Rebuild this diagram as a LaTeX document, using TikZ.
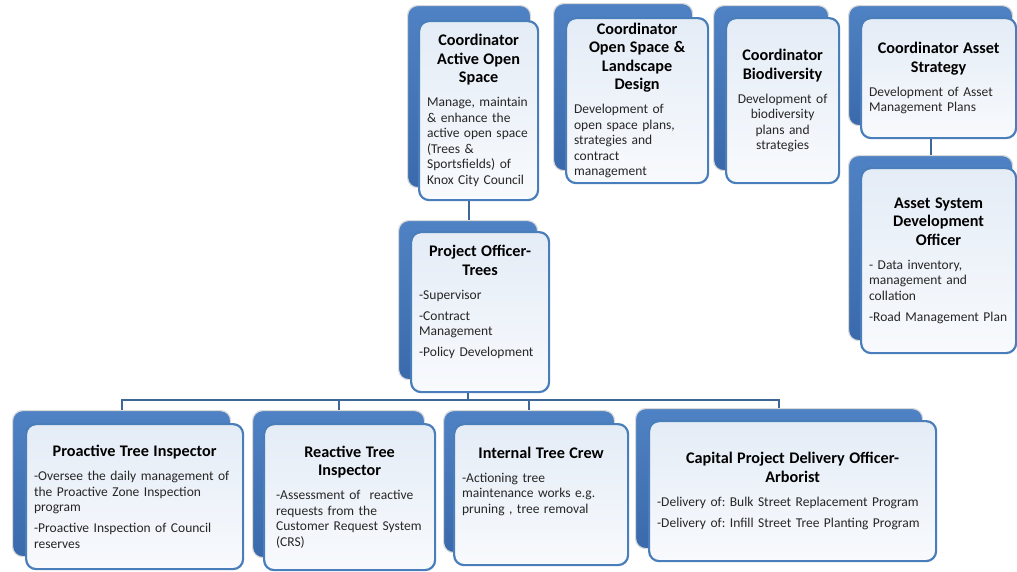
\documentclass[tikz,border=0pt]{standalone}
\usepackage{fontspec}
\setmainfont{Carlito}
\usetikzlibrary{calc}
\definecolor{cardblue}{HTML}{4A7EBB}
\definecolor{backtop}{HTML}{4F82C4}
\definecolor{backbot}{HTML}{3A6AAB}
\definecolor{facetop}{HTML}{E4ECF6}
\definecolor{facebot}{HTML}{F8FAFD}
\definecolor{connblue}{HTML}{3E6696}
\setlength\parindent{0pt}
\frenchspacing
\newcommand\ttlfont{\fontsize{16.2}{18.5}\selectfont\bfseries\color{black}}
\newcommand\bodyfont{\fontsize{13.5}{15.5}\selectfont\parindent=0pt\frenchspacing}
\newcommand\ttl[1]{{\centering\ttlfont #1\par}\vspace{8.5pt}}
\newcommand\gap{\par\vspace{5.5pt}}
\newcommand\li[1]{\mbox{#1}}
\newcommand\lift[1]{\par\vspace{#1}\hbox{}}
\begin{document}
\begin{tikzpicture}[x=1pt,y=-1pt,
  back/.style={draw=black!15, line width=1.2pt, rounded corners=10pt,
    top color=backtop, bottom color=backbot, anchor=north west, inner sep=0pt},
  face/.style={draw=cardblue, line width=2.2pt, rounded corners=10pt,
    top color=facetop, bottom color=facebot, anchor=north west,
    inner xsep=8pt, inner ysep=0pt, font=\bodyfont, text=black!85, align=left},
  conn/.style={draw=connblue, line width=2pt}]
\useasboundingbox (0,0) rectangle (1017,571);

% back cards
\node[back, minimum width=123pt, minimum height=182pt] (p1) at (407,5) {};
\node[back, minimum width=139pt, minimum height=167pt] (p2) at (553,3) {};
\node[back, minimum width=115pt, minimum height=165pt] (p3) at (713,5) {};
\node[back, minimum width=164pt, minimum height=120pt] (p4) at (848,5) {};
\node[back, minimum width=164pt, minimum height=185pt] (p5) at (848,155) {};
\node[back, minimum width=139pt, minimum height=159pt] (p6) at (398,220) {};
\node[back, minimum width=218pt, minimum height=146pt] (p7) at (12,410) {};
\node[back, minimum width=172pt, minimum height=147pt] (p8) at (252,410) {};
\node[back, minimum width=171pt, minimum height=142pt] (p9) at (443,410) {};
\node[back, minimum width=287pt, minimum height=140pt] (p10) at (635,408) {};

% front cards
\node[face, text width=103pt, minimum width=119pt, minimum height=179pt] (b1) at (418,20)
 {\ttl{Coordinator\\Active Open\\Space}
  \li{Manage, maintain}\\\li{\& enhance the}\\\li{active open space}\\\li{(Trees \&}\\\li{Sportsfields) of}\\\li{Knox City Council}};
\node[face, text width=126pt, minimum width=142pt, minimum height=165pt] (b2) at (565,17)
 {\ttl{Coordinator\\Open Space \&\\Landscape\\Design}
  \li{Development of}\\\li{open space plans,}\\\li{strategies and}\\\li{contract}\\\li{management}};
\node[face, align=center, text width=97pt, minimum width=113pt, minimum height=165pt] (b3) at (725,17)
 {\ttl{Coordinator\\Biodiversity}
  Development of\\biodiversity\\plans and\\strategies};
\node[face, text width=139pt, minimum width=155pt, minimum height=120pt] (b4) at (860,17)
 {\ttl{Coordinator Asset\\Strategy}
  \li{Development of Asset}\\\li{Management Plans}};
\node[face, text width=139pt, minimum width=155pt, minimum height=185pt] (b5) at (860,167)
 {\ttl{Asset System\\Development\\Officer}
  \li{- Data inventory,}\\\li{management and}\\\li{collation}\gap\li{-Road Management Plan}};
\node[face, text width=122pt, minimum width=138pt, minimum height=160pt] (b6) at (410,231)
 {\ttl{Project Officer-\\Trees}
  \li{-Supervisor}\gap\li{-Contract}\\\li{Management}\gap\li{-Policy Development}\lift{6.5pt}};
\node[face, text width=201pt, minimum width=217pt, minimum height=145pt] (b7) at (25,423)
 {\ttl{Proactive Tree Inspector}
  \li{-Oversee the daily management of}\\\li{the Proactive Zone Inspection}\\\li{program}\gap
  \li{-Proactive Inspection of Council}\\\li{reserves}};
\node[face, inner xsep=12pt, text width=147pt, minimum width=171pt, minimum height=146pt] (b8) at (263,423)
 {\ttl{Reactive Tree\\Inspector}
  \li{-Assessment of~ reactive}\\\li{requests from the}\\\li{Customer Request System}\\\li{(CRS)}};
\node[face, text width=158pt, minimum width=174pt, minimum height=141pt] (b9) at (453,423)
 {\ttl{Internal Tree Crew}
  \li{-Actioning tree}\\\li{maintenance works e.g.}\\\li{pruning , tree removal}\lift{13.5pt}};
\node[face, text width=271pt, minimum width=287pt, minimum height=140pt] (b10) at (648,420)
 {\ttl{Capital Project Delivery Officer-\\Arborist}
  \li{-Delivery of: Bulk Street Replacement Program}\gap
  \li{-Delivery of: Infill Street Tree Planting Program}};

% connectors
\coordinate (bar) at (0,400);
\draw[conn] (p1.center |- b1.south) -- (p1.center |- p6.north);
\draw[conn] (p4.center |- b4.south) -- (p4.center |- p5.north);
\draw[conn] (p6.center |- b6.south) -- (p6.center |- bar);
\draw[conn] (p7.north) |- (p10.north |- bar) -- (p10.north);
\draw[conn] (p8.north) -- (p8.north |- bar);
\draw[conn] (p9.north) -- (p9.north |- bar);
\end{tikzpicture}
\end{document}
